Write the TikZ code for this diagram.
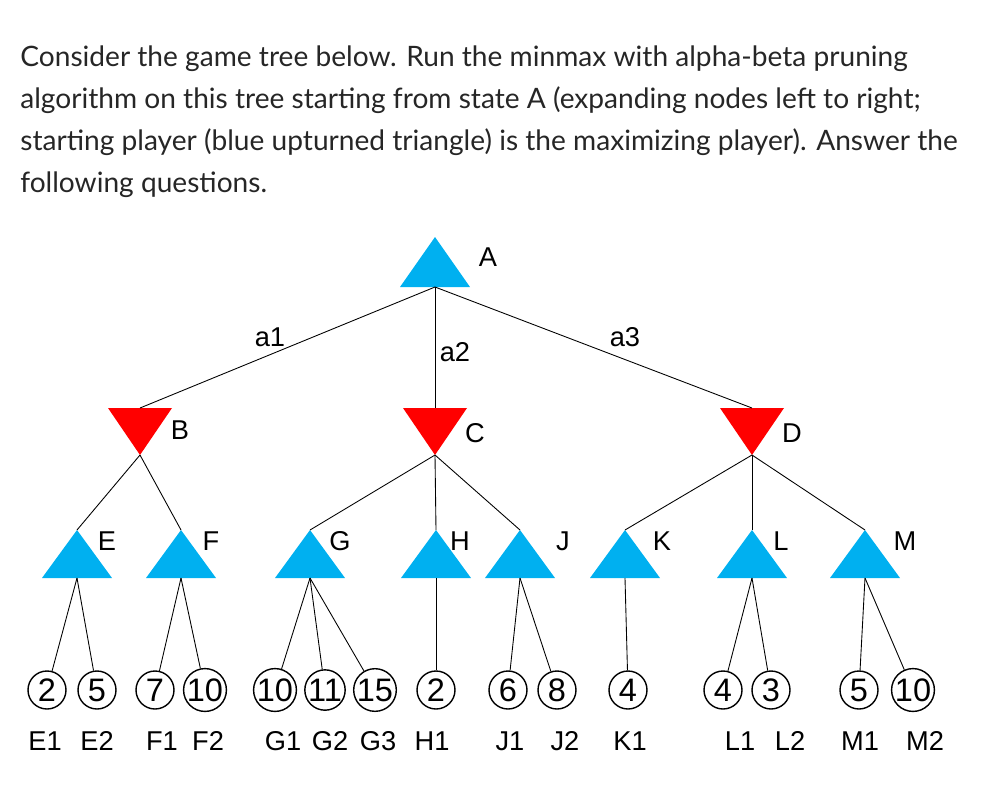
\documentclass[tikz,border=0pt]{standalone}
\usepackage{fontspec}
\setmainfont{Lato}
\newfontfamily\arialf{Liberation Sans}
\definecolor{tblue}{HTML}{00B0F0}
\definecolor{tred}{HTML}{FF0000}
\newcommand\mkuptri[4]{% name, cx, top y, bottom y
  \fill[tblue] (#2-35,#4) -- (#2,#3) -- (#2+35,#4) -- cycle;
  \coordinate (#1t) at (#2,#3); \coordinate (#1b) at (#2,#4);}
\newcommand\mkdowntri[4]{% name, cx, top y, bottom y
  \fill[tred] (#2-32,#3) -- (#2+32,#3) -- (#2,#4) -- cycle;
  \coordinate (#1t) at (#2,#3); \coordinate (#1b) at (#2,#4);}
\begin{document}
\begin{tikzpicture}[x=0.02cm,y=-0.02cm,
  para/.style={anchor=base west,inner sep=0,font=\fontsize{16}{19}\selectfont,text=black!85},
  lab/.style={font=\arialf\fontsize{15.5}{18}\selectfont},
  leaf/.style={circle,draw,thick,minimum size=38*0.02cm,inner sep=0,font=\arialf\fontsize{18.5}{20}\selectfont},
  edge/.style={draw,line width=0.5pt}]
\useasboundingbox (0,0) rectangle (1005,796);
\node[para] (p1) at (20,66) {Consider the game tree below. Run the minmax with alpha-beta pruning};
\node[para] (p2) at (20,108) {algorithm on this tree starting from state A (expanding nodes left to right;};
\node[para] (p3) at (20,150) {starting player (blue upturned triangle) is the maximizing player). Answer the};
\node[para] (p4) at (20,192) {following questions.};
\mkuptri{A}{435}{237}{287}
\mkdowntri{B}{140}{408}{455}
\mkdowntri{C}{435}{408}{455}
\mkdowntri{D}{752}{408}{455}
\foreach \n/\x in {E/77,F/181,G/310,H/436,J/520,K/625,L/752,M/865}{\mkuptri{\n}{\x}{530}{578}}
\draw[edge] (Ab) -- (Bt); \draw[edge] (Ab) -- (Ct); \draw[edge] (Ab) -- (Dt);
\draw[edge] (Bb) -- (Et); \draw[edge] (Bb) -- (Ft);
\draw[edge] (Cb) -- (Gt); \draw[edge] (Cb) -- (Ht); \draw[edge] (Cb) -- (Jt);
\draw[edge] (Db) -- (Kt); \draw[edge] (Db) -- (Lt); \draw[edge] (Db) -- (Mt);
\foreach \n/\t/\x/\y in {lA/A/488/257,la1/a1/270/337,la2/a2/455/352,la3/a3/625/337,lB/B/180/430,lC/C/475/433,lD/D/792/433,
  lE/E/107/541,lF/F/211/541,lG/G/340/541,lH/H/460/541,lJ/J/563/541,lK/K/662/541,lL/L/781/541,lM/M/905/541}
  \node[lab] (\n) at (\x,\y) {\t};
\foreach \n/\v/\x/\p in {e1/2/47/E,e2/5/97/E,f1/7/155/F,f2/10/205/F,g1/10/275/G,g2/11/325/G,g3/15/375/G,h1/2/436/H,
  j1/6/508/J,j2/8/557/J,k1/4/628/K,l1/4/723/L,l2/3/771/L,m1/5/859/M,m2/10/913/M}{
  \node[leaf] (\n) at (\x,690) {\v};
  \draw[edge] (\p b) -- (\n);}
\foreach \n/\t/\x in {t1/E1/45,t2/E2/97,t3/F1/162,t4/F2/208,t5/G1/283,t6/G2/330,t7/G3/378,t8/H1/432,t9/J1/510,t10/J2/565,t11/K1/630,t12/L1/740,t13/L2/790,t14/M1/860,t15/M2/925}
  \node[lab] (\n) at (\x,741) {\t};
\end{tikzpicture}
\end{document}
